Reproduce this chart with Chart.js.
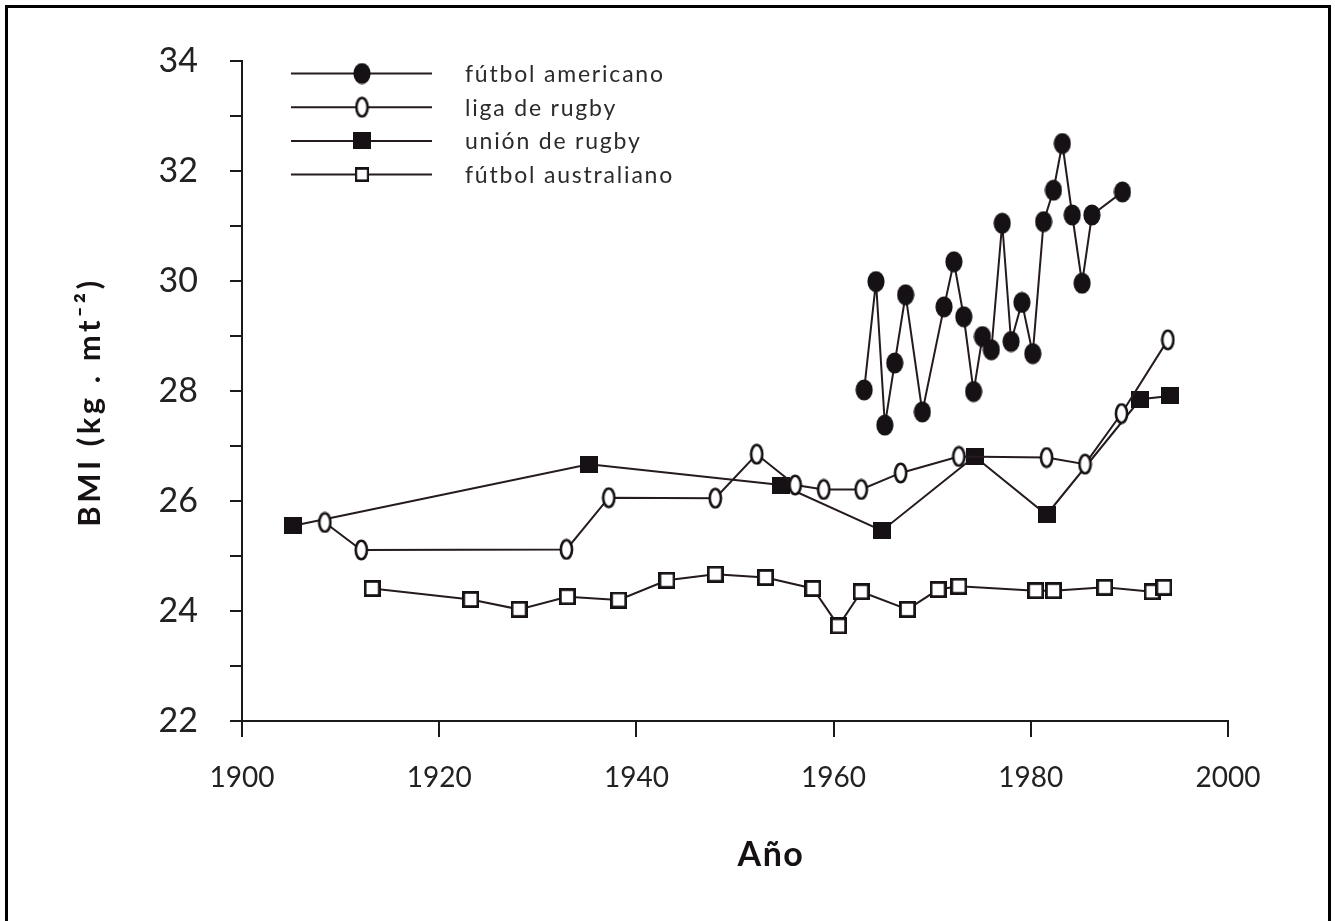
<!DOCTYPE html>
<html>
<head>
<meta charset="utf-8">
<script src="https://cdn.jsdelivr.net/npm/chart.js@4"></script>
<style>
  html, body { margin: 0; padding: 0; background: #fff; }
  #wrap { position: relative; width: 1335px; height: 921px; }
</style>
</head>
<body>
<div id="wrap"><canvas id="bmiChart" width="1335" height="921"></canvas></div>
<script>
// BMI of football codes over time

const seriesNames = ['fútbol americano', 'liga de rugby', 'unión de rugby', 'fútbol australiano'];

const americanYears = [1963.1, 1964.3, 1965.2, 1966.2, 1967.3, 1969.0, 1971.2, 1972.2, 1973.2, 1974.2, 1975.1, 1976.0,
                       1977.1, 1978.0, 1979.1, 1980.2, 1981.3, 1982.3, 1983.2, 1984.2, 1985.2, 1986.2, 1989.3];
const americanBmi   = [28.02, 29.99, 27.38, 28.51, 29.75, 27.62, 29.53, 30.35, 29.35, 27.99, 28.99, 28.75,
                       31.05, 28.90, 29.61, 28.68, 31.08, 31.65, 32.50, 31.20, 29.96, 31.20, 31.62];

const leagueYears = [1908.4, 1912.1, 1932.9, 1937.2, 1948.0, 1952.2, 1956.1, 1959.0, 1962.8, 1966.8, 1972.7,
                     1981.6, 1985.5, 1989.2, 1993.9];
const leagueBmi   = [25.61, 25.11, 25.12, 26.06, 26.05, 26.85, 26.29, 26.21, 26.21, 26.51, 26.81,
                     26.79, 26.67, 27.59, 28.93];

const unionYears = [1905.2, 1935.2, 1954.7, 1964.9, 1974.3, 1981.6, 1991.1, 1994.1];
const unionBmi   = [25.55, 26.67, 26.29, 25.46, 26.81, 25.75, 27.85, 27.91];

const australianYears = [1913.2, 1923.2, 1928.1, 1933.0, 1938.2, 1943.1, 1948.0, 1953.1, 1957.9, 1960.5,
                         1962.8, 1967.5, 1970.6, 1972.7, 1980.5, 1982.3, 1987.5, 1992.3, 1993.5];
const australianBmi   = [24.41, 24.21, 24.03, 24.26, 24.20, 24.56, 24.67, 24.61, 24.41, 23.73,
                         24.35, 24.03, 24.39, 24.45, 24.37, 24.37, 24.43, 24.35, 24.43];

const xMin = 1900, xMax = 2000, xStep = 20;
const yMin = 22, yMax = 34, yStep = 1;

const yTitle = 'BMI (kg . mt⁻²)';
const xTitle = 'Año';

const INK = '#161114';
const LINE = '#241a1f';
const FONT = "Lato, 'Open Sans', sans-serif";

// marker images (Chart.js draws a canvas pointStyle centred on the point)
function makeMarker(w, h, draw) {
  const c = document.createElement('canvas');
  c.width = w; c.height = h;
  draw(c.getContext('2d'), w, h);
  return c;
}

const filledDot = makeMarker(18, 22, (g, w, h) => {
  g.fillStyle = INK;
  g.beginPath(); g.ellipse(w / 2, h / 2, 8.6, 10.6, 0, 0, Math.PI * 2); g.fill();
});
const openDot = makeMarker(15, 22, (g, w, h) => {
  g.fillStyle = '#fff'; g.strokeStyle = INK; g.lineWidth = 2.6;
  g.beginPath(); g.ellipse(w / 2, h / 2, 5.6, 9.2, 0, 0, Math.PI * 2); g.fill(); g.stroke();
});
const filledBox = makeMarker(18, 17, (g, w, h) => {
  g.fillStyle = INK; g.fillRect(0, 0, w, h);
});
const openBox = makeMarker(17, 17, (g, w, h) => {
  g.fillStyle = '#fff'; g.strokeStyle = INK; g.lineWidth = 2.8;
  g.fillRect(0, 0, w, h); g.strokeRect(1.4, 1.4, w - 2.8, h - 2.8);
});
const markers = [filledDot, openDot, filledBox, openBox];

function toPoints(xs, ys) {
  return xs.map((x, i) => ({ x, y: ys[i] }));
}

const seriesData = [
  toPoints(americanYears, americanBmi),
  toPoints(leagueYears, leagueBmi),
  toPoints(unionYears, unionBmi),
  toPoints(australianYears, australianBmi),
];

// frame, legend and axis titles (titles are letter-spaced like the print)
const paperPlugin = {
  id: 'paper',
  beforeDraw(chart) {
    const ctx = chart.ctx;
    ctx.save();
    ctx.fillStyle = '#fff';
    ctx.fillRect(0, 0, chart.width, chart.height);
    ctx.strokeStyle = '#000';
    ctx.lineWidth = 3;
    ctx.beginPath();
    ctx.moveTo(6.5, chart.height);
    ctx.lineTo(6.5, 6.5);
    ctx.lineTo(1329.5, 6.5);
    ctx.lineTo(1329.5, chart.height);
    ctx.stroke();
    ctx.restore();
  },
  afterDraw(chart) {
    const ctx = chart.ctx;
    ctx.save();
    // legend
    chart.data.datasets.forEach((ds, i) => {
      const y = 73.5 + i * 33.7;
      ctx.strokeStyle = LINE;
      ctx.lineWidth = 2;
      ctx.beginPath();
      ctx.moveTo(291, y);
      ctx.lineTo(432, y);
      ctx.stroke();
      const m = markers[i];
      const s = i === 3 ? 0.85 : 1;
      ctx.drawImage(m, 362 - m.width * s / 2, y - m.height * s / 2, m.width * s, m.height * s);
      ctx.fillStyle = '#2b2b2b';
      ctx.font = '23px ' + FONT;
      ctx.letterSpacing = '1.8px';
      ctx.textAlign = 'left';
      ctx.textBaseline = 'middle';
      ctx.fillText(ds.label, 465, y + 1);
    });

    // x axis title
    ctx.fillStyle = INK;
    ctx.font = 'bold 34px ' + FONT;
    ctx.letterSpacing = '1.5px';
    ctx.textAlign = 'center';
    ctx.textBaseline = 'middle';
    ctx.fillText(xTitle, 771, 855);

    // y axis title
    ctx.translate(90, 402);
    ctx.rotate(-Math.PI / 2);
    ctx.font = 'bold 31px ' + FONT;
    ctx.letterSpacing = '3.5px';
    ctx.fillText(yTitle, 0, 0);
    ctx.restore();
  }
};

new Chart(document.getElementById('bmiChart').getContext('2d'), {
  type: 'line',
  data: {
    datasets: seriesData.map((pts, i) => ({
      label: seriesNames[i],
      data: pts,
      borderColor: LINE,
      borderWidth: 2,
      tension: 0,
      fill: false,
      pointStyle: markers[i],
      pointRadius: 9,
      clip: false,
    }))
  },
  options: {
    responsive: false,
    animation: false,
    events: [],
    layout: { padding: { left: 69, right: 107, top: 61, bottom: 0 } },
    plugins: {
      legend: { display: false },
      tooltip: { enabled: false },
    },
    scales: {
      x: {
        type: 'linear',
        min: xMin, max: xMax,
        afterFit: s => { s.height = 200; },
        border: { color: '#1a1a1a', width: 2 },
        grid: { drawOnChartArea: false, color: '#1a1a1a', lineWidth: 2, tickLength: 16 },
        ticks: {
          stepSize: xStep,
          padding: 24,
          color: '#222',
          font: { family: FONT, size: 28 },
          callback: v => String(v),
        }
      },
      y: {
        type: 'linear',
        min: yMin, max: yMax,
        afterFit: s => { s.width = 173; },
        border: { color: '#1a1a1a', width: 2 },
        grid: { drawOnChartArea: false, color: '#1a1a1a', lineWidth: 2, tickLength: 12 },
        ticks: {
          stepSize: yStep,
          autoSkip: false,
          padding: 32,
          color: '#222',
          font: { family: FONT, size: 34 },
          callback: v => (v % 2 === 0 ? String(v) : ''),
        }
      }
    }
  },
  plugins: [paperPlugin]
});
</script>
</body>
</html>
